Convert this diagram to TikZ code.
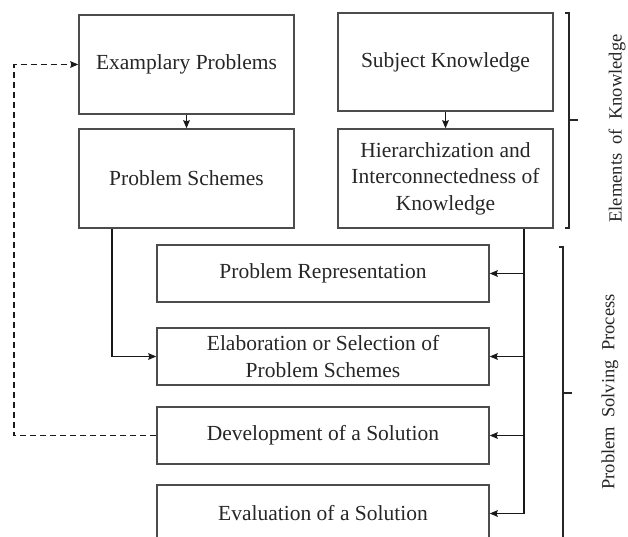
\documentclass[tikz,border=0pt]{standalone}
\usepackage{fontspec}
\setmainfont{Liberation Serif}
\usetikzlibrary{arrows.meta,calc}
\begin{document}
\begin{tikzpicture}[x=1pt,y=-1pt,
  box/.style={draw=black!70,line width=1.3pt,inner sep=0pt,align=center,
    font=\fontsize{21.5}{26.5}\selectfont,text=black!85},
  topbox/.style={box,minimum width=215pt,minimum height=99pt},
  lowbox/.style={box,minimum width=332pt,minimum height=57pt},
  arr/.style={line width=1.6pt,draw=black!90,-{Stealth[length=8pt,width=6.5pt,inset=1pt]}},
  dasharr/.style={arr,dash pattern=on 6pt off 4pt},
  brk/.style={line width=1.4pt,draw=black!85},
  side/.style={rotate=90,font=\fontsize{18.5}{22}\selectfont,text=black!85,inner sep=0pt}]
\useasboundingbox (0,0) rectangle (628,537);
\clip (0,0) rectangle (628,537);
\node[topbox] (ex) at (186.5,64.5) {Examplary Problems};
\node[topbox] (ps) at (186.5,178.5) {Problem Schemes};
\node[topbox,minimum height=98pt] (sk) at (445.5,62) {Subject Knowledge};
\node[topbox] (hi) at (445.5,178.5) {Hierarchization and\\Interconnectedness of\\Knowledge};
\node[lowbox] (pr) at (323,273.5) {Problem Representation};
\node[lowbox] (el) at (323,356.5) {Elaboration or Selection of\\Problem Schemes};
\node[lowbox] (dv) at (323,435.5) {Development of a Solution};
\node[lowbox] (ev) at (323,513.5) {Evaluation of a Solution};
\coordinate (trunk) at (524,0);
\coordinate (psx) at (112,0);
\coordinate (dl) at (14,0);
\draw[arr] (ex.south) -- (ps.north);
\draw[arr] (sk.south) -- (hi.north);
\draw[arr] (hi.south -| trunk) |- (ev.east);
\draw[arr] (pr.east -| trunk) -- (pr.east);
\draw[arr] (el.east -| trunk) -- (el.east);
\draw[arr] (dv.east -| trunk) -- (dv.east);
\draw[arr] (ps.south -| psx) |- (el.west);
\draw[dasharr] (dv.west) -- (dv.west -| dl) |- (ex.west);
% brackets
\coordinate (b1t) at (569,13);
\coordinate (b1b) at (569,228);
\coordinate (b1m) at (569,120);
\draw[brk] ($(b1t)+(-4,0)$) -- (b1t) -- (b1b) -- ($(b1b)+(-4,0)$);
\draw[brk] (b1m) -- ($(b1m)+(9,0)$);
\node[side] (lk) at (617,128.5) {Elements\ \ of\ \ Knowledge};
\coordinate (b2t) at (563,247);
\coordinate (b2b) at (563,545);
\coordinate (b2m) at (563,393);
\draw[brk] ($(b2t)+(-4,0)$) -- (b2t) -- (b2b);
\draw[brk] (b2m) -- ($(b2m)+(9,0)$);
\node[side] (lp) at (610,392) {Problem\ \ Solving\ \ Process};
\end{tikzpicture}
\end{document}
